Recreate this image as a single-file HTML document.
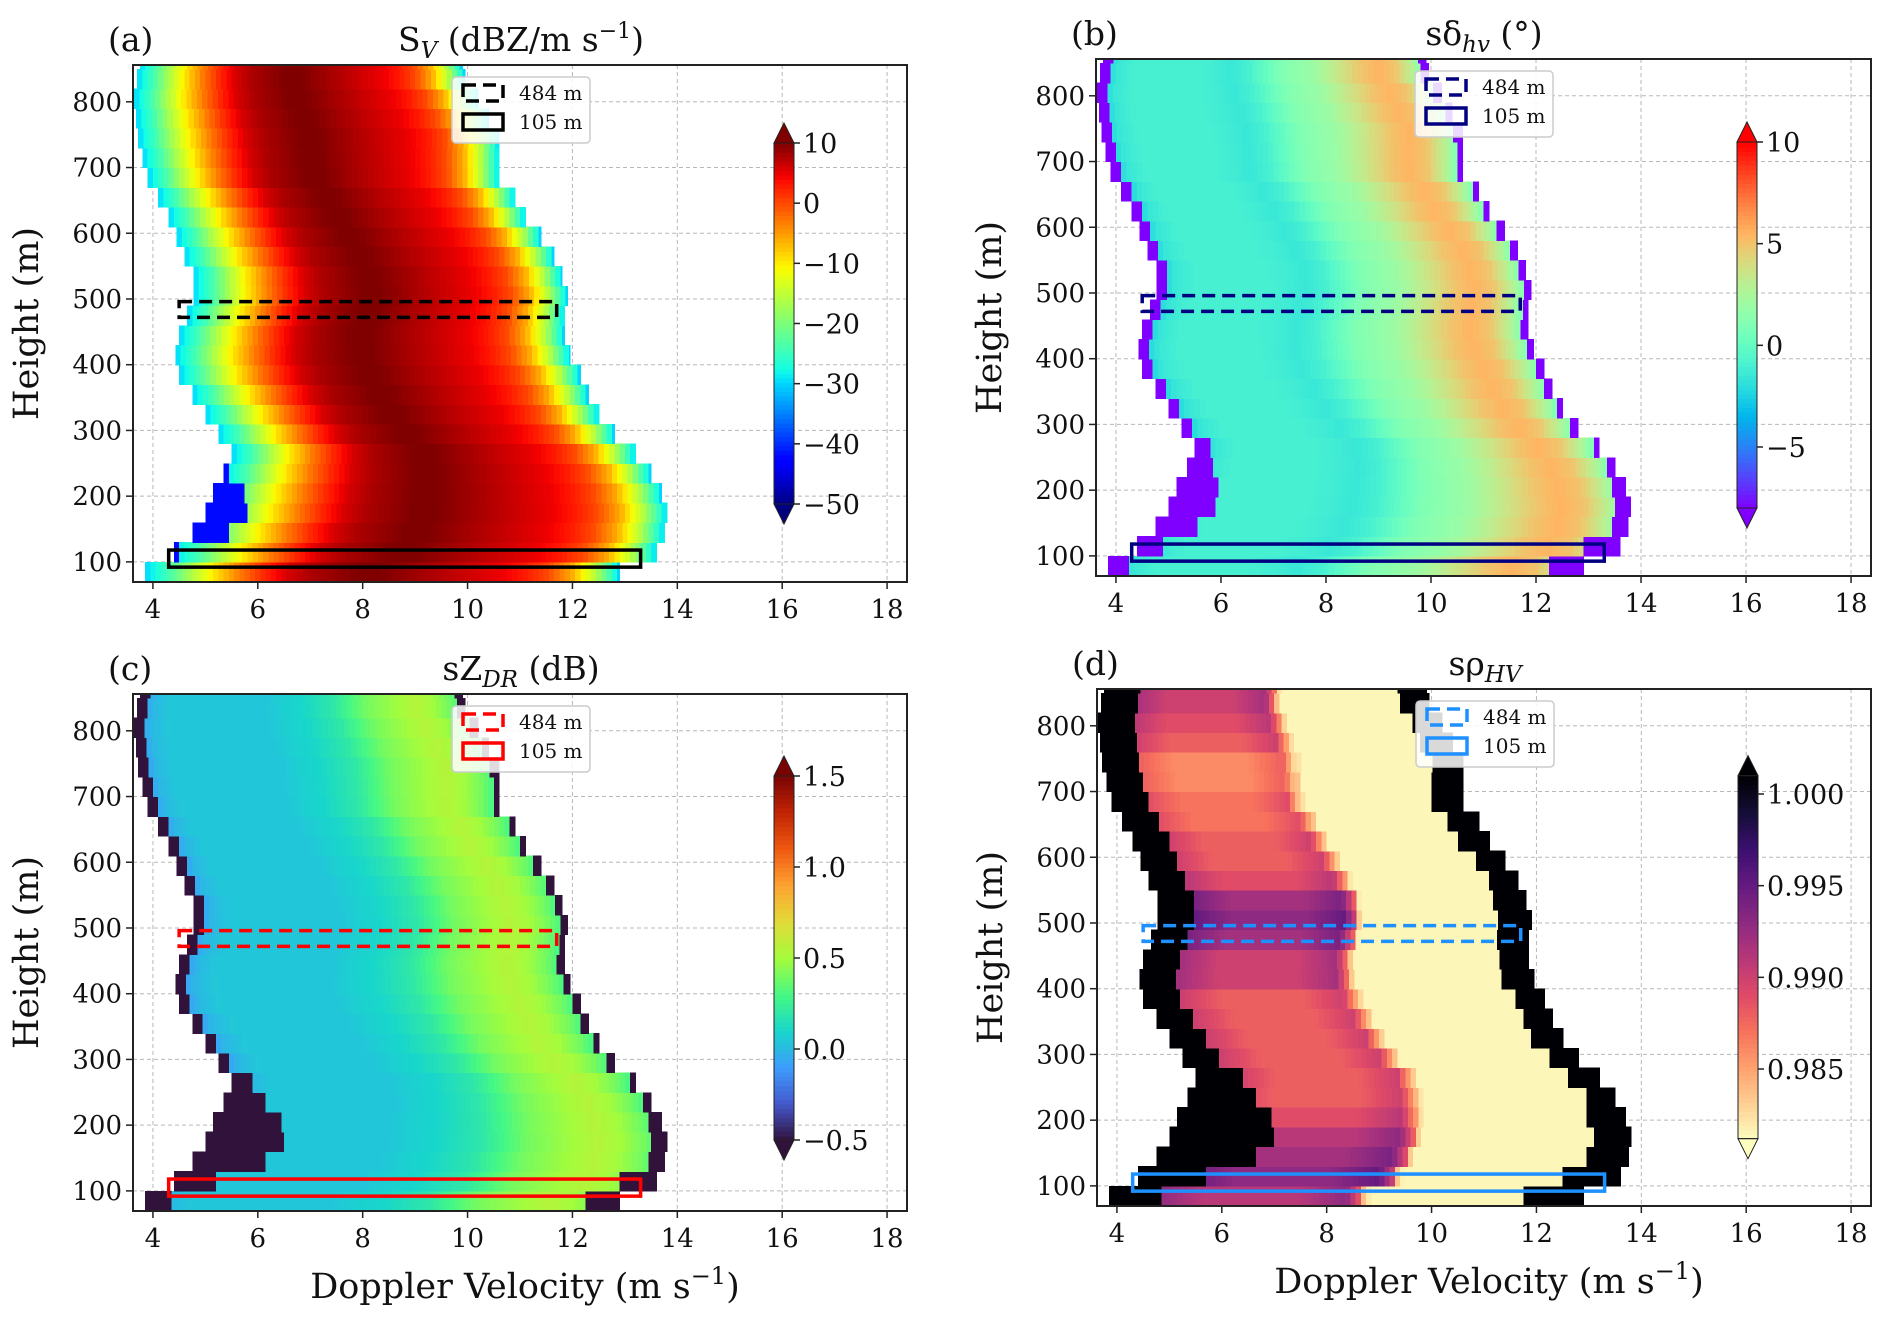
<!DOCTYPE html>
<html><head><meta charset="utf-8">
<style>
html,body{margin:0;padding:0;background:#fff;}
svg{display:block;font-family:"DejaVu Serif","Liberation Serif",serif;}
</style></head>
<body>
<svg id="fig" width="1892" height="1331" viewBox="0 0 1892 1331" xmlns="http://www.w3.org/2000/svg">
<rect width="1892" height="1331" fill="#fff"/>
</svg>
<script>
// ---- data ----
const heights = [85,115,145,175,205,235,265,295,325,355,385,415,445,475,505,535,565,595,625,655,685,715,745,775,805,835,865];
const leftV  = [3.85,4.4,4.75,5.0,5.15,5.35,5.5,5.25,5.0,4.75,4.5,4.43,4.5,4.65,4.77,4.77,4.6,4.45,4.3,4.1,3.9,3.8,3.72,3.68,3.64,3.7,3.75];
const rightV = [12.9,13.6,13.75,13.8,13.7,13.5,13.2,12.8,12.5,12.3,12.15,11.95,11.85,11.85,11.9,11.8,11.65,11.4,11.1,10.9,10.6,10.6,10.6,10.4,10.2,9.95,9.9];
const edgeL = [0.5,0.8,1.4,1.5,1.3,0.8,0.4,0.2,0.2,0.2,0.2,0.2,0.2,0.2,0.2,0.2,0.2,0.2,0.2,0.2,0.2,0.2,0.2,0.2,0.2,0.2,0.2];
const edgeR = [0.7,0.7,0.35,0.3,0.3,0.15,0.15,0.15,0.15,0.15,0.15,0.15,0.15,0.15,0.15,0.15,0.15,0.15,0.15,0.15,0.15,0.15,0.15,0.15,0.15,0.15,0.15];
const aProfile = [-30,-24,-16,-9,-3,2,6,8,9,10,10,9,8,7,6,5,3,0,-6,-16,-30];
const bProfile = [-3,-1.5,-1,-1,-1,-1,-1,-1.2,-1.5,-1,0,1,1.5,2,3,4,5,5.5,5,3,0];
const cProfile = [-0.15,0.0,0.05,0.05,0.05,0.05,0.05,0.05,0.05,0.08,0.1,0.15,0.2,0.3,0.4,0.45,0.5,0.55,0.5,0.4,0.25];
const dProfile = [0.996,0.993,0.990,0.989,0.988,0.988,0.988,0.988,0.988,0.989,0.990,0.9815,0.9815,0.9815,0.9815,0.9815,0.9815,0.9815,0.9815,0.9815,0.9815];
const dShift = [0.003,0.005,0.004,0.003,0.001,0,0,0,0,0,0,0.002,0.002,0.004,0.005,0.004,0.001,0,0,-0.001,-0.001,-0.002,-0.002,0,0.001,0.002,0.002];
const xTicks = [4,6,8,10,12,14,16,18];
const yTicks = [100,200,300,400,500,600,700,800];
const aCbTicks = [10,0,-10,-20,-30,-40,-50];
const bCbTicks = [10,5,0,-5];
const cCbTicks = [1.5,1.0,0.5,0.0,-0.5];
const dCbTicks = [1.000,0.995,0.990,0.985];
const box484 = [4.5,11.7,472,496];
const box105 = [4.3,13.3,92,118];

// ---- colormaps ----
function hex(c){return [parseInt(c.slice(1,3),16),parseInt(c.slice(3,5),16),parseInt(c.slice(5,7),16)];}
function stopsMap(stops){return function(t){t=Math.max(0,Math.min(1,t));for(let i=1;i<stops.length;i++){if(t<=stops[i][0]){const a=stops[i-1],b=stops[i];const u=(t-a[0])/(b[0]-a[0]||1);const ca=a[1],cb=b[1];return 'rgb('+[0,1,2].map(k=>Math.round(ca[k]+(cb[k]-ca[k])*u)).join(',')+')';}}const c=stops[stops.length-1][1];return 'rgb('+c.join(',')+')';};}
const jet = stopsMap([[0,[0,0,128]],[0.11,[0,0,255]],[0.125,[0,0,255]],[0.34,[0,219,255]],[0.375,[20,255,227]],[0.5,[122,255,122]],[0.64,[240,255,8]],[0.66,[255,245,0]],[0.89,[255,18,0]],[0.91,[245,0,0]],[1,[128,0,0]]]);
const rainbow = function(t){t=Math.max(0,Math.min(1,t));const r=Math.min(1,Math.abs(2*t-0.5)),g=Math.sin(Math.PI*t),b=Math.cos(Math.PI*t/2);return 'rgb('+Math.round(r*255)+','+Math.round(g*255)+','+Math.round(b*255)+')';};
const turbo = stopsMap(['#30123b','#4458cb','#3e9bfe','#18d6cb','#46f884','#a4fc3c','#e2dc38','#fea331','#ef5911','#c22403','#7a0403'].map((c,i)=>[i/10,hex(c)]));
const magma = stopsMap(['#000004','#140e36','#3b0f70','#641a80','#8c2981','#b73779','#de4968','#f7705c','#fe9f6d','#fecf92','#fcfdbf'].map((c,i)=>[i/10,hex(c)]));
const magmaR = t=>magma(1-t);

function interp(arr,f){f=Math.max(0,Math.min(1,f));const p=f*(arr.length-1);const i=Math.min(arr.length-2,Math.floor(p));const u=p-i;return arr[i]+(arr[i+1]-arr[i])*u;}

// ---- panels ----
const panels = [
 {id:'a',x0:133,y0:65,w:774,h:517,cmap:jet,vmin:-50,vmax:10,ticks:aCbTicks,tTop:143,tBot:504,fmt:v=>String(v).replace('-','\u2212'),box:'#000',
  val:(i,v,f)=>{if(v-leftV[i]<edgeL[i]-0.7)return -42;return interp(aProfile,f);}},
 {id:'b',x0:1096,y0:59,w:775,h:517,cmap:rainbow,vmin:-8,vmax:10,ticks:bCbTicks,tTop:142,tBot:447,fmt:v=>String(v).replace('-','\u2212'),box:'#000080',
  val:(i,v,f)=>{if(v-leftV[i]<edgeL[i]*0.5+0.1||rightV[i]-v<edgeR[i])return -8;return interp(bProfile,f);}},
 {id:'c',x0:133,y0:694,w:774,h:517,cmap:turbo,vmin:-0.5,vmax:1.5,ticks:cCbTicks,tTop:776,tBot:1140,fmt:v=>v.toFixed(1).replace('-','\u2212'),box:'#ff0000',
  val:(i,v,f)=>{if(v-leftV[i]<edgeL[i]||rightV[i]-v<edgeR[i])return -0.6;return interp(cProfile,f);}},
 {id:'d',x0:1097,y0:689,w:774,h:517,cmap:magmaR,vmin:0.9812,vmax:1.001,ticks:dCbTicks,tTop:794,tBot:1069,fmt:v=>v.toFixed(3),box:'#1e90ff',
  val:(i,v,f)=>{if(v-leftV[i]<edgeL[i]+0.5||rightV[i]-v<edgeR[i]+0.45)return 1.002;const b=interp(dProfile,f);return b>0.984?b+dShift[i]:b;}}
];
const XMIN=3.62,XMAX=18.38,YMIN=69.4,YMAX=856;
const NS='http://www.w3.org/2000/svg';
const svg=document.getElementById('fig');
function mk(tag,attrs,parent){const e=document.createElementNS(NS,tag);for(const k in attrs)e.setAttribute(k,attrs[k]);(parent||svg).appendChild(e);return e;}

const titles={a:['S','V',' (dBZ/m s','\u22121',')'],b:['s\u03b4','hv',' (\u00b0)'],c:['sZ','DR',' (dB)'],d:['s\u03c1','HV','']};

panels.forEach(P=>{
  const xs=v=>P.x0+(v-XMIN)/(XMAX-XMIN)*P.w;
  const ys=h=>P.y0+P.h-(h-YMIN)/(YMAX-YMIN)*P.h;
  const g=mk('g',{});
  
  
  const clipId='clip'+P.id;
  const cp=mk('clipPath',{id:clipId},g);mk('rect',{x:P.x0,y:P.y0,width:P.w,height:P.h},cp);
  const grid=mk('g',{stroke:'#b8b8b8','stroke-width':1,'stroke-dasharray':'4,3'},g);
  
  
  xTicks.forEach(t=>mk('line',{x1:xs(t),x2:xs(t),y1:P.y0,y2:P.y0+P.h},grid));
  yTicks.forEach(t=>mk('line',{x1:P.x0,x2:P.x0+P.w,y1:ys(t),y2:ys(t)},grid));
  const hm=mk('g',{'clip-path':'url(#'+clipId+')','shape-rendering':'crispEdges'},g);
  
  
  const dv=0.1;
  heights.forEach((hh,i)=>{
    const L=leftV[i],R=rightV[i];
    const yT=ys(hh+15),yB=ys(hh-15);
    for(let v=L; v<R-1e-6; v+=dv){
      const vc=v+dv/2,f=(vc-L)/(R-L);
      const val=P.val(i,vc,f);
      const c=mk('rect',{x:xs(v).toFixed(2),y:yT.toFixed(2),width:(xs(Math.min(v+dv,R))-xs(v)+0.6).toFixed(2),height:(yB-yT+0.6).toFixed(2),fill:P.cmap((val-P.vmin)/(P.vmax-P.vmin))},hm);
      
      
    }
  });
  const b1=mk('rect',{x:xs(box484[0]),y:ys(box484[3]),width:xs(box484[1])-xs(box484[0]),height:ys(box484[2])-ys(box484[3]),fill:'none',stroke:P.box,'stroke-width':3.5,'stroke-dasharray':'13,7'},g);
  
  
  const b2=mk('rect',{x:xs(box105[0]),y:ys(box105[3]),width:xs(box105[1])-xs(box105[0]),height:ys(box105[2])-ys(box105[3]),fill:'none',stroke:P.box,'stroke-width':3.5},g);
  
  
  const fr=mk('rect',{x:P.x0,y:P.y0,width:P.w,height:P.h,fill:'none',stroke:'#222','stroke-width':2},g);
  
  
  xTicks.forEach(t=>{
    mk('line',{x1:xs(t),x2:xs(t),y1:P.y0+P.h,y2:P.y0+P.h+7,stroke:'#222','stroke-width':1.5},g);
    const tx=mk('text',{x:xs(t),y:P.y0+P.h+36,'font-size':26,'text-anchor':'middle',fill:'#111'},g);
    
    
    tx.textContent=t;
  });
  yTicks.forEach(t=>{
    mk('line',{x1:P.x0-7,x2:P.x0,y1:ys(t),y2:ys(t),stroke:'#222','stroke-width':1.5},g);
    const ty=mk('text',{x:P.x0-11,y:ys(t)+9,'font-size':26,'text-anchor':'end',fill:'#111'},g);
    
    
    ty.textContent=t;
  });
  const yl=mk('text',{x:0,y:0,'font-size':35,'text-anchor':'middle',fill:'#111',transform:'translate('+(P.x0-95)+','+(P.y0+P.h/2)+') rotate(-90)'},g);
  
  
  yl.textContent='Height (m)';
  const pl=mk('text',{x:P.x0-25,y:P.y0-14,'font-size':33,fill:'#111'},g);
  
  
  pl.textContent='('+P.id+')';
  const T=titles[P.id];
  const tt=mk('text',{x:P.x0+388,y:P.y0-14,'font-size':33,'text-anchor':'middle',fill:'#111'},g);
  
  
  const s1=mk('tspan',{},tt);s1.textContent=T[0];
  const s2=mk('tspan',{dy:7,'font-size':23,'font-style':'italic'},tt);s2.textContent=T[1];
  const s3=mk('tspan',{dy:-7},tt);s3.textContent=T[2];
  if(T[3]){const s4=mk('tspan',{dy:-13,'font-size':22},tt);s4.textContent=T[3];const s5=mk('tspan',{dy:13},tt);s5.textContent=T[4];}
  const lg=mk('g',{},g);
  
  
  mk('rect',{x:P.x0+319,y:P.y0+12,width:138,height:66,rx:4,fill:'rgba(255,255,255,0.85)',stroke:'#ccc','stroke-width':1.5},lg);
  const li1=mk('rect',{x:P.x0+330,y:P.y0+20,width:40,height:16,fill:'none',stroke:P.box,'stroke-width':3.5,'stroke-dasharray':'13,7'},lg);
  
  
  const li2=mk('rect',{x:P.x0+330,y:P.y0+49,width:40,height:16,fill:'none',stroke:P.box,'stroke-width':3.5},lg);
  
  
  const lt1=mk('text',{x:P.x0+386,y:P.y0+35,'font-size':20,fill:'#111'},lg);lt1.textContent='484 m';
  
  
  const lt2=mk('text',{x:P.x0+386,y:P.y0+64,'font-size':20,fill:'#111'},lg);lt2.textContent='105 m';
  
  
  const cb=mk('g',{},g);
  
  
  const cx0=P.x0+641,cw=20;
  const tv=P.ticks,t0=tv[0],t1=tv[tv.length-1];
  const cbv=v=>P.tBot-(v-t1)/(t0-t1)*(P.tBot-P.tTop);
  const yTop=cbv(P.vmax),yBot=cbv(P.vmin);
  const N=80;
  for(let k=0;k<N;k++){
    const t=(k+0.5)/N;
    const r=mk('rect',{x:cx0,y:yBot-(k+1)*(yBot-yTop)/N,width:cw,height:(yBot-yTop)/N+0.8,fill:P.cmap(t),'shape-rendering':'crispEdges'},cb);
    
    
  }
  mk('polygon',{points:cx0+','+yTop+' '+(cx0+cw/2)+','+(yTop-20)+' '+(cx0+cw)+','+yTop,fill:P.cmap(1),stroke:'#222','stroke-width':1},cb);
  mk('polygon',{points:cx0+','+yBot+' '+(cx0+cw/2)+','+(yBot+20)+' '+(cx0+cw)+','+yBot,fill:P.cmap(0),stroke:'#222','stroke-width':1},cb);
  mk('rect',{x:cx0,y:yTop,width:cw,height:yBot-yTop,fill:'none',stroke:'#222','stroke-width':1},cb);
  tv.forEach(t=>{
    const y=cbv(t);
    mk('line',{x1:cx0+cw,x2:cx0+cw+6,y1:y,y2:y,stroke:'#222','stroke-width':1.5},cb);
    const ct=mk('text',{x:cx0+cw+9,y:y+10,'font-size':27,fill:'#111'},cb);
    
    
    ct.textContent=P.fmt(t);
  });
  if(P.id==='c'||P.id==='d'){
    const xl=mk('text',{x:P.x0+392,y:P.y0+P.h+87,'font-size':35,'text-anchor':'middle',fill:'#111'},g);
    
    
    const a1=mk('tspan',{},xl);a1.textContent='Doppler Velocity (m s';
    const a2=mk('tspan',{dy:-14,'font-size':24},xl);a2.textContent='\u22121';
    const a3=mk('tspan',{dy:14},xl);a3.textContent=')';
  }
});
</script>
</body></html>
